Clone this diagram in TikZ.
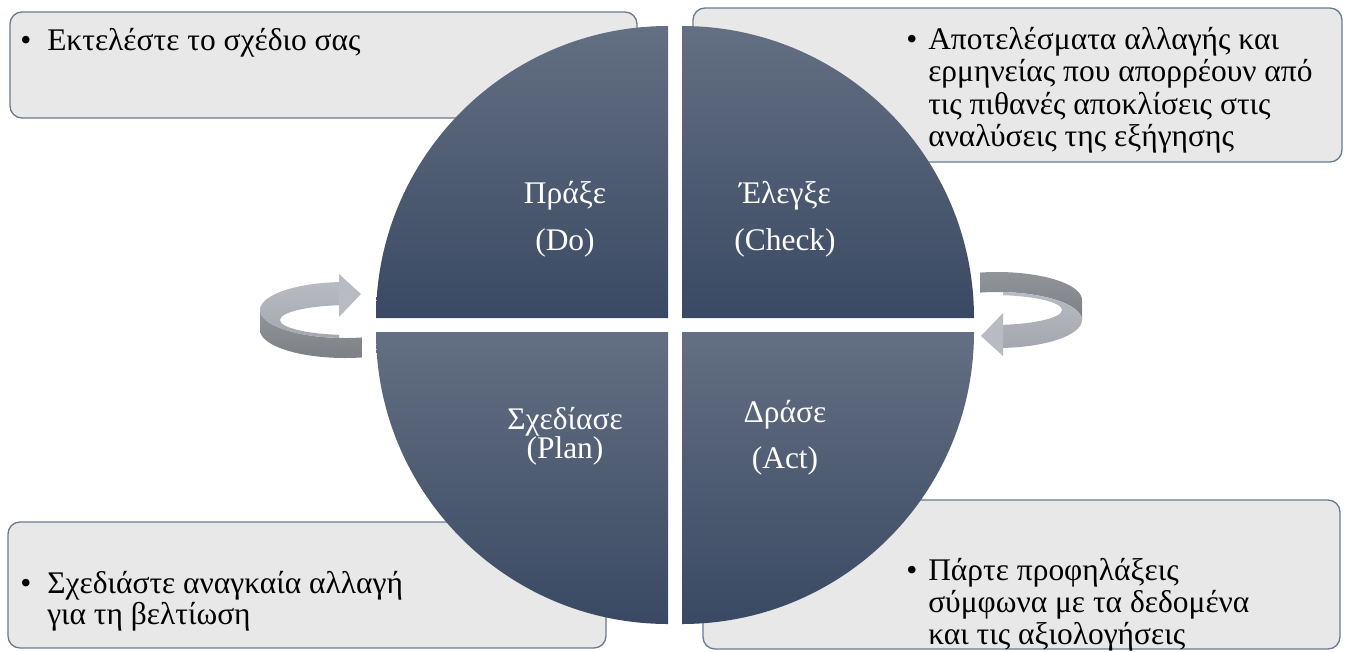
\documentclass[tikz,border=0pt]{standalone}
\usepackage{fontspec}
\setmainfont{Liberation Serif}
\definecolor{boxfill}{HTML}{E8E8E8}
\definecolor{boxedge}{HTML}{6B7A8F}
\definecolor{quadtop}{HTML}{636F82}
\definecolor{quadbot}{HTML}{3A4963}
\definecolor{ringlight}{HTML}{B8BBC1}
\definecolor{ringlighttwo}{HTML}{A4A7AD}
\definecolor{ringdark}{HTML}{929599}
\definecolor{ringdarktwo}{HTML}{7C7F84}
\tikzset{
  ringarrow/.pic={
    \shade[top color=ringdark, bottom color=ringdarktwo]
      (-411,-5) arc[start angle=180, end angle=78.5, x radius=85, y radius=28]
      -- ++(0,20) arc[start angle=78.5, end angle=180, x radius=85, y radius=28] -- cycle;
    \begin{scope}
      \clip (-420,-60) rectangle (-332,60);
      \shade[top color=ringlight, bottom color=ringlighttwo, even odd rule]
        (-326,-5) ellipse[x radius=85, y radius=28]
        (-321,5) ellipse[x radius=70, y radius=15];
    \end{scope}
    \fill[ringlight] (-332,-41) -- (-310,-21) -- (-332,2) -- cycle;
  }
}
\begin{document}
\begin{tikzpicture}[x=0.75pt,y=-0.75pt,
  infobox/.style={draw=boxedge, line width=1pt, fill=boxfill, rounded corners=9pt},
  quad/.style={top color=quadtop, bottom color=quadbot},
  quadlabel/.style={text=white, font=\fontsize{23.6}{28}\selectfont, anchor=base, inner sep=0pt},
  boxtext/.style={anchor=base west, inner sep=0pt, font=\fontsize{23.6}{28}\selectfont},
]
\useasboundingbox (0,0) rectangle (1346,651);

% information boxes
\draw[infobox] (10,12) rectangle (637,118);
\draw[infobox] (693,8) rectangle (1342,162);
\draw[infobox] (8,522) rectangle (606,648);
\draw[infobox] (703,500) rectangle (1340,649);

% quadrants
\shade[quad] (668,318) -- (376,318) arc[start angle=180, end angle=270, radius=292] -- cycle;
\shade[quad] (682,318) -- (682,26) arc[start angle=270, end angle=360, radius=292] -- cycle;
\shade[quad] (668,332) -- (376,332) arc[start angle=180, end angle=90, radius=292] -- cycle;
\shade[quad] (682,332) -- (974,332) arc[start angle=0, end angle=90, radius=292] -- cycle;

% circular arrows
\pic (leftArrow) at (671,315) {ringarrow};
\pic[rotate=180] (rightArrow) at (671,315) {ringarrow};

% quadrant labels
\node[quadlabel] (doGr) at (565,203) {Πράξε};
\node[quadlabel] (doEn) at (565,250) {(Do)};
\node[quadlabel] (checkGr) at (785,203) {Έλεγξε};
\node[quadlabel] (checkEn) at (785,250) {(Check)};
\node[quadlabel] (planGr) at (565,429) {Σχεδίασε};
\node[quadlabel] (planEn) at (565,458) {(Plan)};
\node[quadlabel] (actGr) at (785,422) {Δράσε};
\node[quadlabel] (actEn) at (785,468) {(Act)};

% box texts
\node[boxtext] (doBullet) at (20,50) {•};
\node[boxtext] (doLineA) at (47,50) {Εκτελέστε το σχέδιο σας};

\node[boxtext] (checkBullet) at (906,49) {•};
\node[boxtext] (checkLineA) at (928,49) {Αποτελέσματα αλλαγής και};
\node[boxtext] (checkLineB) at (928,81.5) {ερμηνείας που απορρέουν από};
\node[boxtext] (checkLineC) at (928,114) {τις πιθανές αποκλίσεις στις};
\node[boxtext] (checkLineD) at (928,146.5) {αναλύσεις της εξήγησης};

\node[boxtext] (planBullet) at (20,593) {•};
\node[boxtext] (planLineA) at (47,593) {Σχεδιάστε αναγκαία αλλαγή};
\node[boxtext] (planLineB) at (47,624) {για τη βελτίωση};

\node[boxtext] (actBullet) at (906,580) {•};
\node[boxtext] (actLineA) at (928,580) {Πάρτε προφηλάξεις};
\node[boxtext] (actLineB) at (928,612) {σύμφωνα με τα δεδομένα};
\node[boxtext] (actLineC) at (928,644) {και τις αξιολογήσεις};
\end{tikzpicture}
\end{document}
